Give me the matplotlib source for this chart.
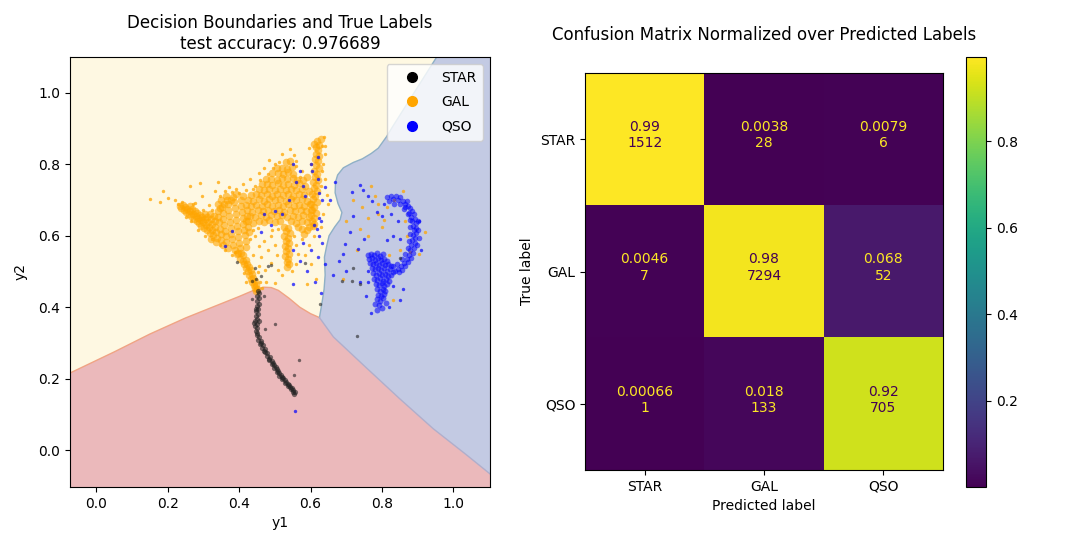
import matplotlib
matplotlib.use('Agg')
import matplotlib.pyplot as plt
import numpy as np
from matplotlib.lines import Line2D

# ---------------- data ----------------
classes = ['STAR', 'GAL', 'QSO']
cm_counts = [[1512, 28, 6],
             [7, 7294, 52],
             [1, 133, 705]]
test_accuracy = 0.976689

# decision boundaries (y1, y2)
boundary_star_gal = [(-0.08, 0.213), (0.05, 0.275), (0.15, 0.325), (0.25, 0.37), (0.30, 0.39),
                     (0.35, 0.41), (0.40, 0.43), (0.44, 0.447), (0.468, 0.456), (0.49, 0.455),
                     (0.51, 0.447), (0.54, 0.425), (0.57, 0.40), (0.60, 0.382), (0.625, 0.371)]
boundary_star_qso = [(0.625, 0.371), (0.664, 0.317), (0.757, 0.230), (0.851, 0.143),
                     (0.944, 0.060), (1.037, -0.013), (1.11, -0.072)]
boundary_gal_qso = [(0.625, 0.371), (0.631, 0.405), (0.638, 0.45), (0.641, 0.49), (0.639, 0.54),
                    (0.645, 0.57), (0.652, 0.60), (0.668, 0.625), (0.683, 0.645), (0.688, 0.665),
                    (0.677, 0.69), (0.669, 0.72), (0.670, 0.75), (0.676, 0.77), (0.692, 0.79),
                    (0.72, 0.805), (0.745, 0.815), (0.77, 0.83), (0.79, 0.845), (0.813, 0.877),
                    (0.83, 0.905), (0.96, 1.11)]

gal_wing = [(0.233,0.683),(0.238,0.677),(0.242,0.686),(0.245,0.671),(0.249,0.680),(0.252,0.665),(0.255,0.674),
            (0.259,0.660),(0.261,0.683),(0.263,0.668),(0.266,0.655),(0.268,0.676),(0.271,0.662),(0.273,0.648),
            (0.276,0.670),(0.278,0.655),(0.281,0.641),(0.283,0.664),(0.285,0.650),(0.288,0.635),(0.290,0.658),
            (0.292,0.644),(0.294,0.628),(0.297,0.652),(0.299,0.638),(0.301,0.622),(0.303,0.660),(0.305,0.646),
            (0.307,0.631),(0.309,0.615),(0.311,0.653),(0.313,0.639),(0.315,0.624),(0.317,0.608),(0.319,0.662),
            (0.321,0.647),(0.323,0.632),(0.325,0.617),(0.327,0.602),(0.329,0.655),(0.331,0.640),(0.333,0.625),
            (0.335,0.610),(0.337,0.595)]
gal_body = [(0.340,0.668),(0.342,0.652),(0.344,0.637),(0.346,0.620),(0.348,0.604),(0.350,0.588),(0.352,0.680),
            (0.354,0.663),(0.356,0.647),(0.358,0.630),(0.360,0.614),(0.362,0.598),(0.364,0.582),(0.366,0.700),
            (0.368,0.688),(0.370,0.672),(0.372,0.655),(0.374,0.639),(0.376,0.622),(0.378,0.606),(0.380,0.590),
            (0.382,0.574),(0.384,0.708),(0.386,0.694),(0.388,0.678),(0.390,0.661),(0.392,0.645),(0.394,0.628),
            (0.396,0.612),(0.398,0.596),(0.400,0.580),(0.402,0.565),(0.404,0.700),(0.406,0.684),(0.408,0.667),
            (0.410,0.650),(0.412,0.633),(0.414,0.617),(0.416,0.601),(0.418,0.585),(0.420,0.569),(0.358,0.690),
            (0.376,0.700),(0.345,0.678),(0.370,0.565),(0.387,0.560),(0.397,0.553),(0.362,0.712),(0.350,0.700),
            (0.340,0.690),(0.392,0.718),(0.410,0.712),(0.355,0.575),(0.335,0.582),(0.322,0.592),(0.418,0.640),
            (0.422,0.655),(0.424,0.625),(0.428,0.610)]
gal_stem = [(0.395,0.548),(0.405,0.552),(0.412,0.545),(0.402,0.536),(0.410,0.530),(0.418,0.533),(0.414,0.520),
            (0.422,0.522),(0.419,0.510),(0.427,0.512),(0.424,0.500),(0.432,0.503),(0.429,0.490),(0.436,0.492),
            (0.433,0.480),(0.440,0.482),(0.437,0.470),(0.444,0.472),(0.441,0.462),(0.447,0.462),(0.445,0.453),
            (0.450,0.452),(0.448,0.445)]
gal_band = [(0.425,0.640),(0.440,0.636),(0.455,0.642),(0.470,0.638),(0.485,0.643),(0.500,0.637),(0.515,0.641),
            (0.545,0.640),(0.560,0.636),(0.575,0.642),(0.590,0.638),
            (0.430,0.656),(0.445,0.652),(0.460,0.657),(0.475,0.653),(0.490,0.658),(0.505,0.654),(0.520,0.657),
            (0.535,0.652),(0.550,0.656),(0.565,0.652),(0.580,0.657),(0.595,0.653),
            (0.422,0.671),(0.437,0.667),(0.452,0.672),(0.467,0.668),(0.482,0.673),(0.497,0.669),(0.512,0.672),
            (0.527,0.667),(0.542,0.671),(0.557,0.668),(0.572,0.673),(0.587,0.669),(0.600,0.672),
            (0.418,0.686),(0.433,0.682),(0.448,0.687),(0.463,0.683),(0.478,0.688),(0.493,0.684),(0.508,0.687),
            (0.523,0.683),(0.538,0.688),(0.553,0.684),(0.568,0.687),(0.583,0.683),(0.598,0.688),
            (0.425,0.701),(0.440,0.697),(0.455,0.702),(0.470,0.698),(0.485,0.703),(0.500,0.699),(0.515,0.702),
            (0.530,0.698),(0.545,0.703),(0.560,0.699),(0.575,0.702),(0.590,0.698),
            (0.432,0.714),(0.447,0.718),(0.462,0.713),(0.477,0.717),(0.492,0.712),(0.507,0.716),(0.522,0.713),
            (0.537,0.717),(0.552,0.712),(0.567,0.716),(0.582,0.713),
            (0.455,0.731),(0.470,0.727),(0.485,0.732),(0.500,0.728),(0.515,0.731),(0.530,0.727),(0.545,0.732),
            (0.560,0.728),(0.575,0.731),
            (0.465,0.745),(0.478,0.745),(0.493,0.742),(0.508,0.747),(0.523,0.743),(0.538,0.746),(0.553,0.742),
            (0.568,0.747),(0.476,0.760),(0.490,0.760),(0.505,0.757),(0.520,0.762),(0.535,0.758),(0.550,0.761),
            (0.563,0.757),(0.493,0.775),(0.508,0.776),(0.523,0.772),(0.538,0.777),(0.552,0.773),
            (0.506,0.790),(0.520,0.790),(0.535,0.787),(0.548,0.792),(0.530,0.805),(0.543,0.808)]
gal_mid_stalk = [(0.525,0.625),(0.538,0.622),(0.530,0.612),(0.542,0.607),(0.527,0.600),(0.536,0.595),
                 (0.531,0.585),(0.540,0.580),(0.528,0.572),(0.537,0.566),(0.532,0.556),(0.541,0.550),
                 (0.529,0.543),(0.537,0.536),(0.533,0.527),(0.540,0.520),(0.535,0.512)]
gal_right_stalk = [(0.618,0.865),(0.624,0.855),(0.614,0.848),(0.622,0.840),(0.616,0.830),(0.625,0.822),
                   (0.612,0.815),(0.620,0.808),(0.614,0.798),(0.623,0.790),(0.610,0.782),(0.618,0.774),
                   (0.612,0.765),(0.621,0.757),(0.606,0.750),(0.615,0.742),(0.609,0.733),(0.619,0.726),
                   (0.604,0.718),(0.613,0.711),(0.607,0.702),(0.617,0.695),(0.602,0.688),(0.611,0.680),
                   (0.605,0.672),(0.614,0.664),(0.600,0.657),(0.609,0.650),(0.603,0.642),(0.611,0.634),
                   (0.606,0.626),(0.628,0.870),(0.611,0.858),
                   (0.575,0.620),(0.590,0.615),(0.582,0.605),(0.596,0.625),(0.565,0.625),(0.585,0.740),
                   (0.595,0.725),(0.580,0.755),(0.590,0.765)]
gal_sparse = [(0.150,0.703),(0.188,0.724),(0.178,0.693),(0.200,0.705),(0.220,0.701),(0.262,0.738),(0.276,0.692),
              (0.290,0.747),(0.295,0.710),(0.332,0.724),(0.341,0.750),(0.315,0.685),(0.360,0.725),(0.390,0.730),
              (0.410,0.745),(0.430,0.760),(0.445,0.740),(0.455,0.775),(0.470,0.790),(0.485,0.812),(0.500,0.800),
              (0.520,0.830),(0.542,0.842),(0.555,0.825),(0.560,0.795),(0.575,0.780),(0.600,0.800),(0.595,0.845),
              (0.632,0.850),(0.638,0.875),(0.640,0.830),(0.635,0.800),(0.640,0.760),(0.630,0.740),(0.645,0.715),
              (0.650,0.690),(0.635,0.660),(0.628,0.625),(0.445,0.600),(0.430,0.590),(0.455,0.570),(0.470,0.585),
              (0.480,0.560),(0.462,0.540),(0.490,0.600),(0.500,0.575),(0.505,0.545),(0.488,0.525),(0.472,0.505),
              (0.455,0.515),(0.510,0.505),(0.520,0.490),(0.553,0.600),(0.558,0.575),(0.565,0.550),(0.575,0.590),
              (0.560,0.520),(0.548,0.500),(0.585,0.545),(0.595,0.575),(0.600,0.520),(0.610,0.600),(0.475,0.470),
              (0.500,0.468),(0.465,0.455),(0.420,0.470),(0.415,0.495),(0.380,0.545),(0.360,0.560),(0.345,0.575),
              (0.325,0.590),(0.400,0.720),(0.615,0.480),(0.590,0.465),(0.305,0.600),(0.285,0.615),(0.265,0.640),
              (0.250,0.652),(0.372,0.735),(0.420,0.728),(0.438,0.615),(0.452,0.622),(0.508,0.620),(0.492,0.615),
              (0.228,0.690),(0.240,0.694),(0.270,0.690),(0.300,0.672),(0.325,0.672),(0.345,0.712),(0.380,0.722),
              (0.440,0.732),(0.458,0.755),(0.482,0.772),(0.496,0.790),(0.512,0.806),(0.558,0.810),(0.570,0.765),
              (0.640,0.850),(0.633,0.782),(0.438,0.545),(0.452,0.498),(0.458,0.470),(0.388,0.555),
              (0.720,0.700),(0.745,0.680),(0.770,0.740),(0.790,0.660),(0.805,0.645),(0.800,0.625),(0.835,0.700),
              (0.860,0.725),(0.850,0.560),(0.880,0.555),(0.920,0.610),(0.905,0.550),(0.730,0.560),(0.760,0.600),
              (0.820,0.545),(0.830,0.420),(0.690,0.480),(0.700,0.640),(0.780,0.712),(0.760,0.650),(0.740,0.620),
              (0.815,0.680),(0.790,0.690),(0.870,0.600),(0.865,0.640)]

qso_arc = [(0.815,0.708),(0.825,0.712),(0.832,0.703),(0.840,0.710),(0.846,0.700),(0.852,0.707),(0.858,0.697),
           (0.864,0.690),(0.870,0.698),(0.872,0.684),(0.878,0.677),(0.866,0.680),(0.884,0.670),(0.876,0.663),
           (0.889,0.660),(0.882,0.652),(0.893,0.648),(0.885,0.640),(0.896,0.636),(0.888,0.628),(0.897,0.622),
           (0.889,0.615),(0.896,0.608),(0.887,0.601),(0.894,0.594),(0.885,0.588),(0.892,0.580),(0.883,0.574),
           (0.889,0.566),(0.880,0.560),(0.886,0.552),(0.876,0.547),(0.881,0.538),(0.870,0.535),(0.874,0.526),
           (0.862,0.524),(0.866,0.515),(0.853,0.514),(0.857,0.505),(0.845,0.508),(0.848,0.498),(0.836,0.502),
           (0.820,0.698),(0.835,0.690),(0.850,0.688),(0.862,0.675),(0.872,0.662),(0.878,0.645),(0.880,0.625),
           (0.878,0.605),(0.876,0.585),(0.872,0.565),(0.865,0.548),(0.855,0.535),(0.842,0.522),(0.832,0.515),
           (0.902,0.615),(0.903,0.595),(0.900,0.640),(0.898,0.575)]
qso_blob = [(0.762,0.545),(0.770,0.550),(0.778,0.546),(0.786,0.551),(0.795,0.544),(0.803,0.549),(0.765,0.535),
            (0.773,0.538),(0.781,0.533),(0.790,0.537),(0.798,0.531),(0.807,0.535),(0.815,0.528),(0.768,0.524),
            (0.776,0.520),(0.784,0.525),(0.792,0.519),(0.800,0.523),(0.809,0.517),(0.818,0.521),(0.826,0.514),
            (0.772,0.510),(0.780,0.506),(0.788,0.511),(0.797,0.505),(0.805,0.509),(0.813,0.502),(0.822,0.506),
            (0.830,0.498),(0.776,0.495),(0.784,0.490),(0.792,0.496),(0.800,0.489),(0.809,0.494),(0.817,0.487),
            (0.825,0.491),(0.779,0.480),(0.787,0.476),(0.795,0.482),(0.803,0.474),(0.811,0.479),(0.820,0.472),
            (0.783,0.465),(0.791,0.461),(0.799,0.467),(0.807,0.459),(0.815,0.464),(0.786,0.450),(0.794,0.446),
            (0.802,0.452),(0.810,0.445),(0.790,0.435),(0.798,0.431),(0.806,0.437),(0.787,0.422),(0.796,0.418),
            (0.804,0.425),(0.782,0.410),(0.792,0.405),(0.800,0.398),(0.785,0.392),(0.812,0.412)]
qso_sparse = [(0.739,0.742),(0.748,0.727),(0.772,0.698),(0.760,0.712),(0.716,0.722),(0.669,0.751),(0.720,0.655),
              (0.800,0.655),(0.785,0.665),(0.711,0.611),(0.697,0.577),(0.692,0.548),(0.734,0.562),(0.814,0.587),
              (0.664,0.490),(0.750,0.590),(0.760,0.500),(0.740,0.470),(0.830,0.600),(0.850,0.590),(0.845,0.640),
              (0.825,0.660),(0.805,0.690),(0.910,0.560),(0.905,0.640),(0.860,0.450),(0.850,0.420),(0.770,0.385),
              (0.755,0.430),(0.830,0.460),(0.700,0.500),(0.680,0.530),(0.820,0.400),(0.760,0.470),
              (0.560,0.750),(0.580,0.740),(0.585,0.710),(0.620,0.760),(0.625,0.720),(0.632,0.700),(0.610,0.630),
              (0.617,0.620),(0.625,0.600),(0.632,0.580),(0.600,0.560),(0.580,0.580),(0.550,0.560),(0.570,0.530),
              (0.590,0.500),(0.550,0.465),(0.630,0.440),(0.612,0.470),(0.520,0.660),(0.500,0.668),(0.490,0.630),
              (0.380,0.612),(0.360,0.570),(0.600,0.800),(0.605,0.780),(0.550,0.800),(0.570,0.780),(0.622,0.820),
              (0.640,0.735),(0.655,0.700),(0.630,0.640),(0.625,0.650),(0.620,0.540),(0.640,0.520),(0.556,0.110),
              (0.540,0.700),(0.460,0.610),(0.470,0.660)]

star_line = [(0.452,0.445),(0.456,0.440),(0.450,0.432),(0.455,0.425),(0.451,0.418),(0.455,0.410),(0.449,0.404),
             (0.453,0.396),(0.448,0.389),(0.452,0.382),(0.446,0.375),(0.451,0.368),(0.445,0.361),(0.450,0.354),
             (0.444,0.347),(0.449,0.341),(0.446,0.334),(0.451,0.328),(0.449,0.321),(0.455,0.316),(0.453,0.309),
             (0.460,0.305),(0.459,0.297),(0.466,0.293),(0.465,0.285),(0.472,0.282),(0.472,0.274),(0.479,0.271),
             (0.478,0.263),(0.486,0.260),(0.485,0.252),(0.492,0.249),(0.491,0.241),(0.499,0.238),(0.498,0.230),
             (0.506,0.227),(0.505,0.219),(0.513,0.216),(0.512,0.208),(0.520,0.206),(0.520,0.198),(0.528,0.196),
             (0.528,0.188),(0.536,0.186),(0.536,0.179),(0.543,0.177),(0.544,0.170),(0.550,0.168),(0.551,0.162),
             (0.557,0.162),(0.554,0.156),(0.447,0.395),(0.456,0.362),(0.443,0.355),(0.462,0.300),(0.470,0.278),
             (0.483,0.256),(0.495,0.245),(0.502,0.234),(0.509,0.222),(0.517,0.211),(0.524,0.201),(0.532,0.192),
             (0.540,0.182),(0.547,0.174)]
star_sparse = [(0.500,0.352),(0.472,0.338),(0.569,0.252),(0.555,0.209),(0.435,0.424),(0.395,0.526),(0.482,0.515),
               (0.490,0.517),(0.444,0.510),(0.435,0.473),(0.585,0.524),(0.687,0.473),(0.627,0.408),(0.720,0.510),
               (0.717,0.472),(0.738,0.465),(0.851,0.538),(0.729,0.319),(0.462,0.488),(0.448,0.480),(0.470,0.430)]

# ---------------- figure ----------------
plt.rcParams['font.family'] = ['DejaVu Sans']
fig = plt.figure(figsize=(10.7, 5.43), dpi=100)

W, H = 1070.0, 543.0
def pos(x0, x1, y0, y1):
    return [x0 / W, (H - y1) / H, (x1 - x0) / W, (y1 - y0) / H]

ax1 = fig.add_axes(pos(70, 490, 57, 487))
ax2 = fig.add_axes(pos(585, 943, 73, 470))
cax = fig.add_axes(pos(966, 986, 57, 487))

c_star = '#ebb9bb'
c_gal = '#fef8e2'
c_qso = '#c3cae3'
xlo, xhi, ylo, yhi = -0.074, 1.103, -0.103, 1.1

ax1.set_facecolor(c_gal)
star_poly = [(-0.2, -0.2)] + boundary_star_gal + boundary_star_qso[1:] + [(1.2, -0.072), (1.2, -0.2)]
qso_poly = boundary_gal_qso + [(1.2, 1.11), (1.2, -0.072)] + boundary_star_qso[::-1]
ax1.fill(*zip(*star_poly), color=c_star, lw=0, zorder=0)
ax1.fill(*zip(*qso_poly), color=c_qso, lw=0, zorder=0)
ax1.plot(*zip(*boundary_star_gal), color='#f0a484', lw=1.0, zorder=1)
ax1.plot(*zip(*boundary_gal_qso), color='#8fb0c6', lw=1.0, zorder=1)
ax1.plot(*zip(*boundary_star_qso), color='#b0aecb', lw=1.0, zorder=1)

def sc(pts, color, s, alpha):
    xs, ys = zip(*pts)
    ax1.scatter(xs, ys, s=s, c=color, alpha=alpha, linewidths=0, zorder=3)

for grp in (gal_wing, gal_body, gal_stem, gal_band, gal_mid_stalk, gal_right_stalk):
    sc(grp, 'orange', 30, 0.6)
sc(gal_sparse, 'orange', 6, 0.75)
sc(qso_arc, 'blue', 16, 0.55)
sc(qso_blob, 'blue', 18, 0.55)
sc(qso_sparse, 'blue', 6, 0.7)
sc(star_line, '#222222', 14, 0.6)
sc(star_sparse, '#222222', 6, 0.6)

ax1.set_xlim(xlo, xhi)
ax1.set_ylim(ylo, yhi)
ax1.set_xticks([0.0, 0.2, 0.4, 0.6, 0.8, 1.0])
ax1.set_yticks([0.0, 0.2, 0.4, 0.6, 0.8, 1.0])
ax1.set_xlabel('y1')
ax1.set_ylabel('y2', labelpad=8)
ax1.set_title('Decision Boundaries and True Labels\ntest accuracy: %.6f' % test_accuracy)
handles = [Line2D([], [], ls='', marker='o', markersize=7, color=c, label=l)
           for c, l in zip(['black', 'orange', 'blue'], classes)]
ax1.legend(handles=handles, loc='upper right', labelspacing=0.75, handlelength=2.6,
           borderpad=0.5)

# ---------------- confusion matrix ----------------
cm = np.array(cm_counts, dtype=float)
cm_norm = cm / cm.sum(axis=0, keepdims=True)
cmap = plt.get_cmap('viridis')
im = ax2.imshow(cm_norm, cmap=cmap, aspect='auto', interpolation='nearest')
thresh = (cm_norm.max() + cm_norm.min()) / 2.0
for i in range(3):
    for j in range(3):
        col = cmap(0.0) if cm_norm[i, j] > thresh else cmap(1.0)
        ax2.text(j, i - 0.03, '{:.2g}\n{}'.format(cm_norm[i, j], cm_counts[i][j]),
                 ha='center', va='center', color=col, fontsize=10)
ax2.set_xticks(range(3))
ax2.set_xticklabels(classes)
ax2.set_yticks(range(3))
ax2.set_yticklabels(classes)
ax2.set_xlabel('Predicted label')
ax2.set_ylabel('True label')
ax2.set_title('Confusion Matrix Normalized over Predicted Labels', pad=24)
fig.colorbar(im, cax=cax)

fig.savefig('out.png', dpi=100)
